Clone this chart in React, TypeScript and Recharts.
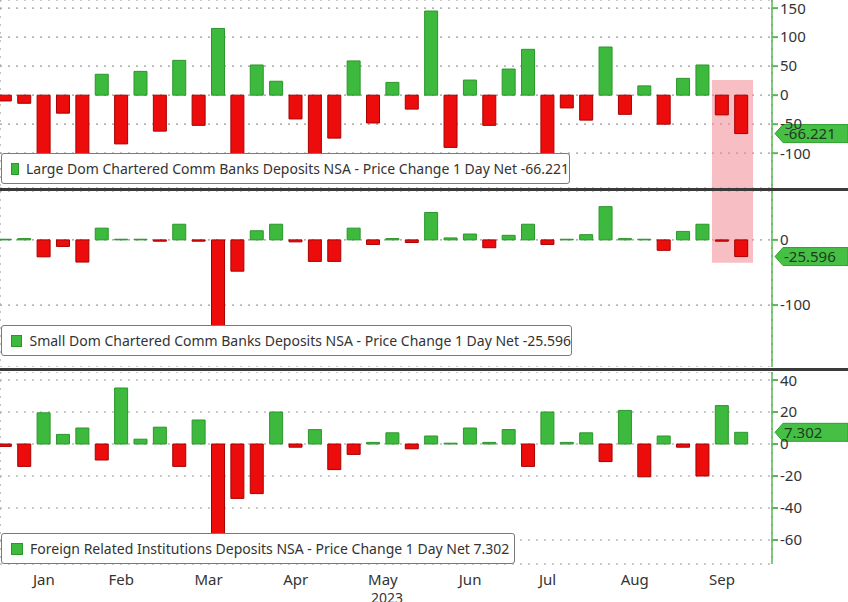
import React from "react";
import {
  Bar,
  BarChart,
  CartesianGrid,
  Cell,
  ReferenceArea,
  ReferenceLine,
  XAxis,
  YAxis,
} from "recharts";

// weekly (Wednesday) observations, 2023
const WEEKS = [
  "01-04", "01-11", "01-18", "01-25",
  "02-01", "02-08", "02-15", "02-22",
  "03-01", "03-08", "03-15", "03-22", "03-29",
  "04-05", "04-12", "04-19", "04-26",
  "05-03", "05-10", "05-17", "05-24", "05-31",
  "06-07", "06-14", "06-21", "06-28",
  "07-05", "07-12", "07-19", "07-26",
  "08-02", "08-09", "08-16", "08-23", "08-30",
  "09-06", "09-13", "09-20", "09-27",
];

const LARGE_BANKS = [
  -10, -14, -130, -31, -120, 36, -84, 41, -62, 60, -52, 115, -120, 52, 24, -41,
  -110, -74, 59, -48, 22, -24, 145, -90, 26, -52, 45, 79, -110, -22, -43, 83,
  -33, 16, -50, 29, 52, -34, -66.221,
];

const SMALL_BANKS = [
  1, 2, -26, -10, -34, 18, 1, 1, -2, 24, -2, -135, -48, 14, 24, -3, -33, -33,
  18, -7, 2, -4, 42, 3, 9, -12, 7, 24, -7, 1, 8, 51, 2, 1, -16, 13, 24, -2,
  -25.596,
];

const FOREIGN = [
  -1.5, -14, 19.5, 6, 10, -10, 35, 3, 10.5, -14, 15, -58, -34, -31, 20, -2, 9,
  -16, -6.5, 1, 7, -3, 5, 0.5, 10, 1, 9, -14, 20, 1, 7, -11, 21, -20.5, 5, -2,
  -20, 24, 7.302,
];

const MONTHS = ["Jan", "Feb", "Mar", "Apr", "May", "Jun", "Jul", "Aug", "Sep"];
// index of first week of each month (+ October as closing edge)
const MONTH_START_WEEK = [0, 4, 8, 13, 17, 22, 26, 30, 35, 39];
const YEAR_LABEL = "2023";
const HIGHLIGHT_WEEKS = [37, 38];

const TITLES = [
  "Large Dom Chartered Comm Banks Deposits NSA - Price Change 1 Day Net",
  "Small Dom Chartered Comm Banks Deposits NSA - Price Change 1 Day Net",
  "Foreign Related Institutions Deposits NSA - Price Change 1 Day Net",
];

const X_DOMAIN: [number, number] = [-0.26, 39.58];
const FONT = "'Noto Sans', 'DejaVu Sans', sans-serif";
const UP = "#3dba3d";
const UP_EDGE = "#2b962b";
const DOWN = "#ec0c0c";
const DOWN_EDGE = "#a80000";
const AXIS_GREEN = "#58b858";
const TEXT = "#333";

const monthMids = MONTHS.map(
  (_, k) => (MONTH_START_WEEK[k] + MONTH_START_WEEK[k + 1]) / 2
);

function LastTag(props: any) {
  const { viewBox, value } = props;
  if (!viewBox) return null;
  const x0 = viewBox.x + viewBox.width + 3;
  const y = viewBox.y;
  const pts = `${x0},${y} ${x0 + 8},${y - 9} 848,${y - 9} 848,${y + 9} ${x0 + 8},${y + 9}`;
  return (
    <g>
      <polygon points={pts} fill="#45c045" stroke="#2f9f2f" strokeWidth={1} />
      <text x={x0 + 9} y={y + 5.5} fontSize={15} fill="#1f3a1f" fontFamily={FONT}>
        {value}
      </text>
    </g>
  );
}

function MonthTick(props: any) {
  const { x, y, payload } = props;
  const k = monthMids.indexOf(payload.value);
  const name = MONTHS[k] ?? "";
  return (
    <g>
      <text x={x} y={y + 13} textAnchor="middle" fontSize={15} fill={TEXT} fontFamily={FONT}>
        {name}
      </text>
      {name === "May" && (
        <text x={x + 4} y={y + 31} textAnchor="middle" fontSize={14} fill={TEXT} fontFamily={FONT}>
          {YEAR_LABEL}
        </text>
      )}
    </g>
  );
}

type PanelProps = {
  values: number[];
  yDomain: [number, number];
  yTicks: number[];
  top: number;
  height: number;
  withMonths?: boolean;
  highlight?: [number, number];
};

function Panel({ values, yDomain, yTicks, top, height, withMonths, highlight }: PanelProps) {
  const data = WEEKS.map((w, i) => ({ i, week: w, v: values[i] }));
  const last = values[values.length - 1];
  return (
    <div style={{ position: "absolute", left: 0, top, width: 848, height }}>
      <BarChart
        width={848}
        height={height}
        data={data}
        margin={{ top: 0, right: 0, bottom: 0, left: 0 }}
        barSize={13}
      >
        <CartesianGrid
          xAxisId="b"
          stroke="#9a9a9a"
          strokeDasharray="2 6"
          strokeWidth={1.2}
        />
        <XAxis
          xAxisId="b"
          type="number"
          dataKey="i"
          domain={X_DOMAIN}
          ticks={MONTH_START_WEEK}
          allowDataOverflow
          tick={false}
          height={0}
          tickSize={5}
          axisLine={withMonths ? { stroke: "#555", strokeWidth: 1.5 } : false}
          tickLine={withMonths ? { stroke: "#555", strokeWidth: 1.5 } : false}
        />
        {withMonths && (
          <XAxis
            xAxisId="m"
            type="number"
            dataKey="i"
            domain={X_DOMAIN}
            ticks={monthMids}
            allowDataOverflow
            axisLine={false}
            tickLine={false}
            height={38}
            tick={<MonthTick />}
          />
        )}
        <YAxis
          orientation="right"
          type="number"
          domain={yDomain}
          ticks={yTicks}
          allowDataOverflow
          width={76}
          axisLine={{ stroke: AXIS_GREEN, strokeWidth: 1.5 }}
          tickLine={{ stroke: AXIS_GREEN, strokeWidth: 2 }}
          tickSize={6}
          tickMargin={2}
          tick={{ fontSize: 15, fill: TEXT, fontFamily: FONT }}
        />
        {highlight && (
          <ReferenceArea
            xAxisId="b"
            x1={HIGHLIGHT_WEEKS[0] - 0.52}
            x2={HIGHLIGHT_WEEKS[1] + 0.6}
            y1={highlight[0]}
            y2={highlight[1]}
            fill="#f08a94"
            fillOpacity={0.55}
            stroke="none"
            ifOverflow="hidden"
          />
        )}
        <Bar xAxisId="b" dataKey="v" isAnimationActive={false} strokeWidth={1}>
          {data.map((d) => (
            <Cell
              key={d.week}
              fill={d.v >= 0 ? UP : DOWN}
              stroke={d.v >= 0 ? UP_EDGE : DOWN_EDGE}
            />
          ))}
        </Bar>
        <ReferenceLine
          xAxisId="b"
          y={last}
          stroke="none"
          ifOverflow="visible"
          label={<LastTag value={String(last)} />}
        />
      </BarChart>
    </div>
  );
}

function LegendBox({ title, value, top, width }: { title: string; value: number; top: number; width: number }) {
  return (
    <div
      style={{
        position: "absolute",
        left: 1,
        top,
        width,
        height: 31,
        boxSizing: "border-box",
        border: "1.5px solid #7a7a7a",
        borderRadius: 3,
        background: "#fff",
        display: "flex",
        alignItems: "center",
        fontFamily: FONT,
        fontSize: 14,
        color: TEXT,
        whiteSpace: "nowrap",
        zIndex: 2,
      }}
    >
      <span
        style={{
          display: "inline-block",
          width: 12,
          height: 12,
          marginLeft: 9,
          marginRight: 7,
          background: UP,
          border: `1px solid ${UP_EDGE}`,
          boxSizing: "border-box",
        }}
      />
      <span>
        {title} {value}
      </span>
    </div>
  );
}

export default function App() {
  return (
    <div
      style={{
        position: "absolute",
        left: 0,
        top: 0,
        width: 848,
        height: 602,
        background: "#fff",
        overflow: "hidden",
      }}
    >
      <Panel
        values={LARGE_BANKS}
        yDomain={[-160, 164]}
        yTicks={[-150, -100, -50, 0, 50, 100, 150]}
        top={0}
        height={188}
        highlight={[-160, 26]}
      />
      <Panel
        values={SMALL_BANKS}
        yDomain={[-195, 75]}
        yTicks={[-100, 0]}
        top={191}
        height={176}
        highlight={[-35, 75]}
      />
      <Panel
        values={FOREIGN}
        yDomain={[-75, 45]}
        yTicks={[-60, -40, -20, 0, 20, 40]}
        top={372}
        height={230}
        withMonths
      />
      <div style={{ position: "absolute", left: 0, top: 188, width: 848, height: 3, background: "#3a3a3a", zIndex: 3 }} />
      <div style={{ position: "absolute", left: 0, top: 368, width: 848, height: 3, background: "#3a3a3a", zIndex: 3 }} />
      <LegendBox title={TITLES[0]} value={LARGE_BANKS[38]} top={153} width={569} />
      <LegendBox title={TITLES[1]} value={SMALL_BANKS[38]} top={325} width={571} />
      <LegendBox title={TITLES[2]} value={FOREIGN[38]} top={533} width={514} />
    </div>
  );
}
